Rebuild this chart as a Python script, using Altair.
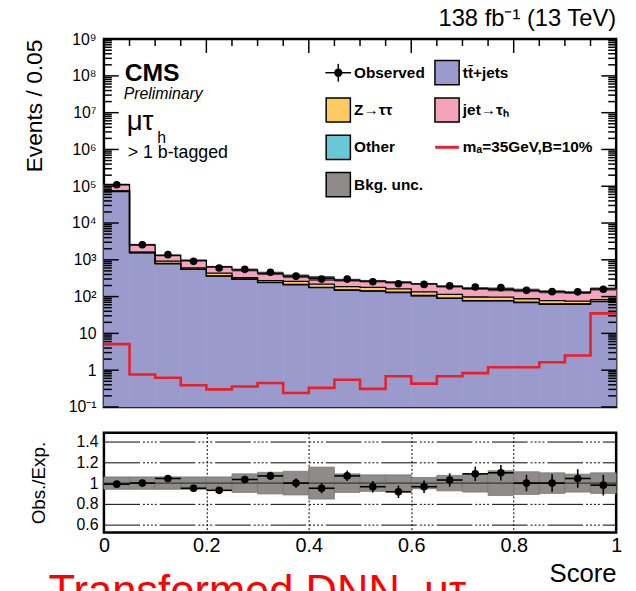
import altair as alt
import pandas as pd

# ---------------- data ----------------
bin_lo = [0.00, 0.05, 0.10, 0.15, 0.20, 0.25, 0.30, 0.35, 0.40, 0.45,
          0.50, 0.55, 0.60, 0.65, 0.70, 0.75, 0.80, 0.85, 0.90, 0.95]
bin_width = 0.05

obs = [110000, 2560, 1380, 910, 600, 550, 460, 360, 300, 300,
       254, 224, 214, 195, 182, 175, 148, 136, 135, 158]
ttbar = [72000, 1550, 780, 550, 360, 295, 240, 210, 175, 148,
         140, 129, 105, 89, 76, 76, 69, 62, 62, 73]
other = [1500, 30, 15, 10, 7, 6, 5, 4, 3.5, 3,
         3, 2.5, 2, 2, 1.5, 1.5, 1.4, 1.2, 1.2, 1.4]
ztt = [1400, 45, 120, 40, 70, 25, 25, 45, 40, 35,
       35, 30, 28, 24, 20, 19, 17, 15, 12, 8]
jetfake = [36200, 935, 406, 358, 208, 205, 160, 101, 97, 94,
           85, 83, 87, 74, 69, 62, 61, 58, 54, 79]
signal = [5.1, 0.76, 0.62, 0.39, 0.30, 0.36, 0.45, 0.24, 0.33, 0.55,
          0.31, 0.68, 0.43, 0.68, 0.83, 1.2, 1.2, 1.65, 2.5, 35]

ratio = [0.99, 1.00, 1.045, 0.95, 0.93, 1.035, 1.07, 1.00, 0.95, 1.07,
         0.965, 0.915, 0.965, 1.03, 1.09, 1.10, 1.00, 1.00, 1.045, 0.98]
ratio_err = [0.01, 0.015, 0.02, 0.025, 0.03, 0.035, 0.04, 0.045, 0.05, 0.05,
             0.055, 0.06, 0.06, 0.065, 0.07, 0.075, 0.08, 0.085, 0.09, 0.1]
bkg_unc = [0.06, 0.06, 0.06, 0.06, 0.06, 0.09, 0.105, 0.115, 0.155, 0.09,
           0.08, 0.08, 0.055, 0.075, 0.087, 0.12, 0.11, 0.10, 0.087, 0.10]

proc_names = ["tt̄+jets", "Other", "Z→ττ", "jet→τₕ"]
proc_colors = ["#9a9acc", "#66c9d5", "#fdc961", "#f4a3bd"]

legend_names = ["Observed", "tt̄+jets", "Z→ττ", "jet→τₕ", "Other",
                "mₐ=35GeV,B=10%", "Bkg. unc."]
legend_fills = ["black", "#9a9acc", "#fdc961", "#f4a3bd", "#66c9d5", "#e8202a", "#8f8b8b"]

y_major = [0.1, 1, 10, 1e2, 1e3, 1e4, 1e5, 1e6, 1e7, 1e8, 1e9]
y_minor = [m * 10.0 ** e for e in range(-1, 9) for m in range(2, 10)]
x_top_major = [0.2, 0.4, 0.6, 0.8]
x_top_minor = [0.05, 0.10, 0.15, 0.25, 0.30, 0.35, 0.45, 0.50, 0.55,
               0.65, 0.70, 0.75, 0.85, 0.90, 0.95]

YMIN, YMAX = 0.1, 1e9
W, H, HR = 518, 372, 101
FONT = "Liberation Sans"
RED = "#e8202a"

# ---------------- tables ----------------
n = len(bin_lo)
bin_hi = [round(b + bin_width, 2) for b in bin_lo]
centers = [round(b + bin_width / 2, 3) for b in bin_lo]

stack_rows, level_rows = [], []
cum = [0.0] * n
for name, vals in zip(proc_names, [ttbar, other, ztt, jetfake]):
    for i in range(n):
        lo = cum[i]
        hi = cum[i] + vals[i]
        stack_rows.append(dict(process=name, x=bin_lo[i], xe=bin_hi[i],
                               ylo=max(lo, YMIN), yhi=hi))
        cum[i] = hi
    for i in range(n):
        level_rows.append(dict(level=name, x=bin_lo[i], y=cum[i]))
    level_rows.append(dict(level=name, x=1.0, y=cum[-1]))
total = cum

stack_df = pd.DataFrame(stack_rows)
level_df = pd.DataFrame(level_rows)
unc_df = pd.DataFrame(dict(x=bin_lo, xe=bin_hi,
                           ylo=[t * (1 - u) for t, u in zip(total, bkg_unc)],
                           yhi=[t * (1 + u) for t, u in zip(total, bkg_unc)]))
sig_df = pd.DataFrame(dict(x=bin_lo + [1.0], y=signal + [signal[-1]]))
obs_df = pd.DataFrame(dict(x=centers, y=obs))
ratio_df = pd.DataFrame(dict(x=centers, lo=bin_lo, hi=bin_hi, r=ratio,
                             rlo=[r - e for r, e in zip(ratio, ratio_err)],
                             rhi=[r + e for r, e in zip(ratio, ratio_err)],
                             blo=[1 - u for u in bkg_unc],
                             bhi=[1 + u for u in bkg_unc]))

xs = alt.Scale(domain=[0, 1], nice=False, zero=False)
ys = alt.Scale(type="log", domain=[YMIN, YMAX], nice=False)

sup = "['10⁻¹','1','10','10²','10³','10⁴','10⁵','10⁶','10⁷','10⁸','10⁹']"
main_y_axis = alt.Axis(values=y_major, labelExpr=sup + "[round(log(datum.value)/LN10)+1]",
                       ticks=False, domain=False, grid=False, labelFontSize=16,
                       labelPadding=8, title="Events / 0.05", titleFontSize=23,
                       titleFontWeight="normal", titleAnchor="end", titlePadding=22)


def MX(f):
    return alt.X(f, type="quantitative", scale=xs, axis=None)


def MY(f):
    return alt.Y(f, type="quantitative", scale=ys, axis=main_y_axis)


# ---------------- main panel ----------------
ymaj = pd.DataFrame(dict(v=y_major))
ymin = pd.DataFrame(dict(v=y_minor))
xmaj = pd.DataFrame(dict(v=x_top_major))
xmin = pd.DataFrame(dict(v=x_top_minor))


def ytick(df, x0, x1):
    return alt.Chart(df).mark_rule(color="black", strokeWidth=1.5).encode(
        y=MY("v"), x=alt.value(x0), x2=alt.value(x1))


def xtick(df, ln):
    return alt.Chart(df).mark_rule(color="black", strokeWidth=1.5).encode(
        x=MX("v"), y=alt.value(0), y2=alt.value(ln))


ticks = [ytick(ymaj, 0, 15), ytick(ymin, 0, 8), ytick(ymaj, W - 15, W), ytick(ymin, W - 8, W),
         xtick(xmaj, 14), xtick(xmin, 7)]

proc_scale = alt.Scale(domain=proc_names, range=proc_colors)
stack = alt.Chart(stack_df).mark_rect(strokeWidth=0.6).encode(
    x=MX("x"), x2="xe:Q", y=MY("ylo"), y2="yhi:Q",
    color=alt.Color("process:N", scale=proc_scale, legend=None),
    stroke=alt.Stroke("process:N", scale=proc_scale, legend=None))

unc = alt.Chart(unc_df).mark_rect(color="#222222", opacity=0.75).encode(
    x=MX("x"), x2="xe:Q", y=MY("ylo"), y2="yhi:Q")

outlines = alt.Chart(level_df).mark_line(interpolate="step-after", color="black", strokeWidth=1.3).encode(
    x=MX("x"), y=MY("y"), detail="level:N")

sig = alt.Chart(sig_df).mark_line(interpolate="step-after", color=RED, strokeWidth=2.6).encode(
    x=MX("x"), y=MY("y"))

points = alt.Chart(obs_df).mark_circle(color="black", size=60, opacity=1).encode(
    x=MX("x"), y=MY("y"))


def one_row(txt):
    return pd.DataFrame(dict(t=[txt]))


def label(txt, px, py, size, weight="normal", style="normal", align="left", color="black"):
    return alt.Chart(one_row(txt)).mark_text(
        font=FONT, fontSize=size, fontWeight=weight, fontStyle=style, align=align,
        baseline="alphabetic", color=color).encode(
        text="t:N", x=alt.value(px), y=alt.value(py))


texts = [
    label("CMS", 21, 42, 25, weight="bold"),
    label("Preliminary", 20, 61, 16, style="italic"),
    label("μτ", 23, 92, 28),
    label("h", 54, 105, 16),
    label("> 1 b-tagged", 24, 120, 18),
    label("138 fb⁻¹ (13 TeV)", W, -13, 24, align="right"),
]

# hand-built legend (2 columns)
LEG_X0, LEG_Y0, COL_DX, ROW_DY = 237, 34, 110, 37.7
legend_layers = []
for i, (nm, fc) in enumerate(zip(legend_names, legend_fills)):
    cx = LEG_X0 + (i % 2) * COL_DX
    cy = LEG_Y0 + (i // 2) * ROW_DY
    src = one_row(nm)
    if nm == "Observed":
        legend_layers.append(alt.Chart(src).mark_rule(color="black", strokeWidth=1.5).encode(
            x=alt.value(cx - 13), x2=alt.value(cx + 13), y=alt.value(cy)))
        legend_layers.append(alt.Chart(src).mark_rule(color="black", strokeWidth=1.5).encode(
            x=alt.value(cx), y=alt.value(cy - 9), y2=alt.value(cy + 9)))
        legend_layers.append(alt.Chart(src).mark_point(filled=True, color="black", size=70, opacity=1,
                                                       shape="circle").encode(
            x=alt.value(cx), y=alt.value(cy)))
    elif nm.startswith("m"):
        legend_layers.append(alt.Chart(src).mark_rule(color=RED, strokeWidth=3).encode(
            x=alt.value(cx - 12), x2=alt.value(cx + 12), y=alt.value(cy)))
    else:
        legend_layers.append(alt.Chart(src).mark_point(shape="square", size=600, filled=True,
                                                       fill=fc, stroke="black", strokeWidth=1.5,
                                                       opacity=1).encode(
            x=alt.value(cx), y=alt.value(cy)))
    legend_layers.append(alt.Chart(src).mark_text(
        font=FONT, fontSize=15.5, fontWeight="bold", align="left", baseline="middle",
        color="black").encode(text="t:N", x=alt.value(cx + 16), y=alt.value(cy)))

main = alt.layer(stack, *ticks, unc, outlines, sig, points, *legend_layers, *texts).properties(
    width=W, height=H)

# ---------------- ratio panel ----------------
rs = alt.Scale(domain=[0.52, 1.49], nice=False, zero=False)
r_y_axis = alt.Axis(values=[0.6, 0.8, 1.0, 1.2, 1.4], format="~g", ticks=False, domain=False,
                    grid=True, gridColor="black", gridWidth=1, gridDash=[36, 3, 2, 2, 2, 2, 2, 2, 2, 3],
                    labelFontSize=16, labelPadding=6, title="Obs./Exp.", titleFontSize=19,
                    titleFontWeight="normal", titlePadding=28)
r_x_axis = alt.Axis(values=[0, 0.2, 0.4, 0.6, 0.8, 1.0], format="~g", ticks=False, domain=False,
                    grid=True, gridColor="black", gridWidth=1, gridDash=[2, 2],
                    labelFontSize=20, labelPadding=3, labelFlush=False, labelOverlap=False,
                    title="Score", titleFontSize=26, titleFontWeight="normal",
                    titleAnchor="end", titlePadding=6)


def RX(f):
    return alt.X(f, type="quantitative", scale=xs, axis=r_x_axis)


def RY(f):
    return alt.Y(f, type="quantitative", scale=rs, axis=r_y_axis)


band = alt.Chart(ratio_df).mark_rect(color="#8f8b8b", stroke="#7a7676", strokeWidth=0.8).encode(
    x=RX("lo"), x2="hi:Q", y=RY("blo"), y2="bhi:Q")
one = alt.Chart(ratio_df).mark_rule(color="#333333", strokeWidth=1.2).encode(
    x=RX("lo"), x2="hi:Q", y=alt.datum(1.0, scale=rs, axis=r_y_axis, type="quantitative"))
xerr = alt.Chart(ratio_df).mark_rule(color="black", strokeWidth=1.6).encode(
    x=RX("lo"), x2="hi:Q", y=RY("r"))
yerr = alt.Chart(ratio_df).mark_rule(color="black", strokeWidth=1.6).encode(
    x=RX("x"), y=RY("rlo"), y2="rhi:Q")
rpts = alt.Chart(ratio_df).mark_circle(color="black", size=60, opacity=1).encode(
    x=RX("x"), y=RY("r"))
red_text = label("Transformed DNN, μτ", -56, 175, 44, color="#ff0000")

ratio_panel = alt.layer(band, one, xerr, yerr, rpts, red_text).properties(width=W, height=HR)

chart = alt.vconcat(main, ratio_panel, spacing=14).properties(
    padding={"left": 14, "top": -6, "right": 5, "bottom": 0}
).configure_view(stroke="black", strokeWidth=2.5).configure_axis(
    labelFont=FONT, titleFont=FONT, labelColor="black", titleColor="black"
).configure_text(font=FONT)

chart.save("out.html", embed_options={"renderer": "svg", "actions": False})
